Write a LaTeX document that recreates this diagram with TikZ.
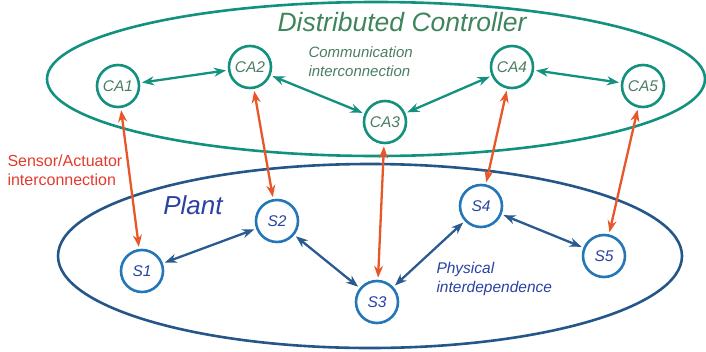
\documentclass[tikz,border=0pt]{standalone}
\usepackage{fontspec}
\setmainfont{Liberation Sans}
\usetikzlibrary{arrows.meta}
\definecolor{teal1}{HTML}{13917F}
\definecolor{ctrltext}{HTML}{3F855C}
\definecolor{catext}{HTML}{4A7D63}
\definecolor{orange1}{HTML}{E8572A}
\definecolor{sensred}{HTML}{E53A2E}
\definecolor{plantline}{HTML}{24568A}
\definecolor{scircle}{HTML}{2376B8}
\definecolor{stext}{HTML}{2A42A2}
\definecolor{blarrow}{HTML}{2A5A90}
\tikzset{
  canode/.style={circle, draw=teal1, line width=2.6pt, minimum size=42pt, inner sep=0pt,
    text=catext, font=\itshape\fontsize{15.5}{15.5}\selectfont},
  snode/.style={circle, draw=scircle, line width=2.6pt, minimum size=42pt, inner sep=0pt,
    text=stext, font=\itshape\fontsize{15.5}{15.5}\selectfont},
  link/.style={{Stealth[length=12pt,width=9pt]}-{Stealth[length=12pt,width=9pt]}, line width=2.3pt, shorten <=2pt, shorten >=2pt},
  comm/.style={link, draw=teal1},
  sens/.style={link, draw=orange1},
  phys/.style={link, draw=blarrow},
}
\begin{document}
\begin{tikzpicture}[x=1pt,y=-1pt]
\useasboundingbox (0,0) rectangle (706,351);
% the two domains
\draw[teal1, line width=2.6pt] (376,79) ellipse [x radius=329, y radius=77];
\draw[plantline, line width=2.6pt] (370,256) ellipse [x radius=312, y radius=92];
% titles
\node[text=ctrltext, font=\itshape\fontsize{26.5}{26.5}\selectfont] (title) at (402,22) {Distributed Controller};
\node[text=stext, font=\itshape\fontsize{26}{26}\selectfont] (plant) at (193,205) {Plant};
% controller agents
\node[canode] (ca1) at (118,86) {CA1};
\node[canode] (ca2) at (250,67) {CA2};
\node[canode] (ca3) at (385,122) {CA3};
\node[canode] (ca4) at (512,67) {CA4};
\node[canode] (ca5) at (643,86) {CA5};
% plant subsystems
\node[snode] (s1) at (142,271) {S1};
\node[snode] (s2) at (277,221) {S2};
\node[snode] (s3) at (377,302) {S3};
\node[snode] (s4) at (481,206) {S4};
\node[snode] (s5) at (604,256) {S5};
% labels
\node[anchor=west, align=left, text=catext, font=\itshape\fontsize{15}{19}\selectfont] (comlab) at (305,62) {Communication\\interconnection};
\node[anchor=west, align=left, text=sensred, font=\fontsize{16}{19}\selectfont] (senslab) at (4,170) {Sensor/Actuator\\interconnection};
\node[anchor=west, align=left, text=stext, font=\itshape\fontsize{15.5}{19}\selectfont] (physlab) at (433,279) {Physical\\interdependence};
% communication links
\draw[comm] (ca1) -- (ca2);
\draw[comm] (ca2) -- (ca3);
\draw[comm] (ca3) -- (ca4);
\draw[comm] (ca4) -- (ca5);
% sensor/actuator links
\draw[sens] (ca1) -- (s1);
\draw[sens] (ca2) -- (s2);
\draw[sens] (ca3) -- (s3);
\draw[sens] (ca4) -- (s4);
\draw[sens] (ca5) -- (s5);
% physical couplings
\draw[phys] (s1) -- (s2);
\draw[phys] (s2) -- (s3);
\draw[phys] (s3) -- (s4);
\draw[phys] (s4) -- (s5);
\end{tikzpicture}
\end{document}
